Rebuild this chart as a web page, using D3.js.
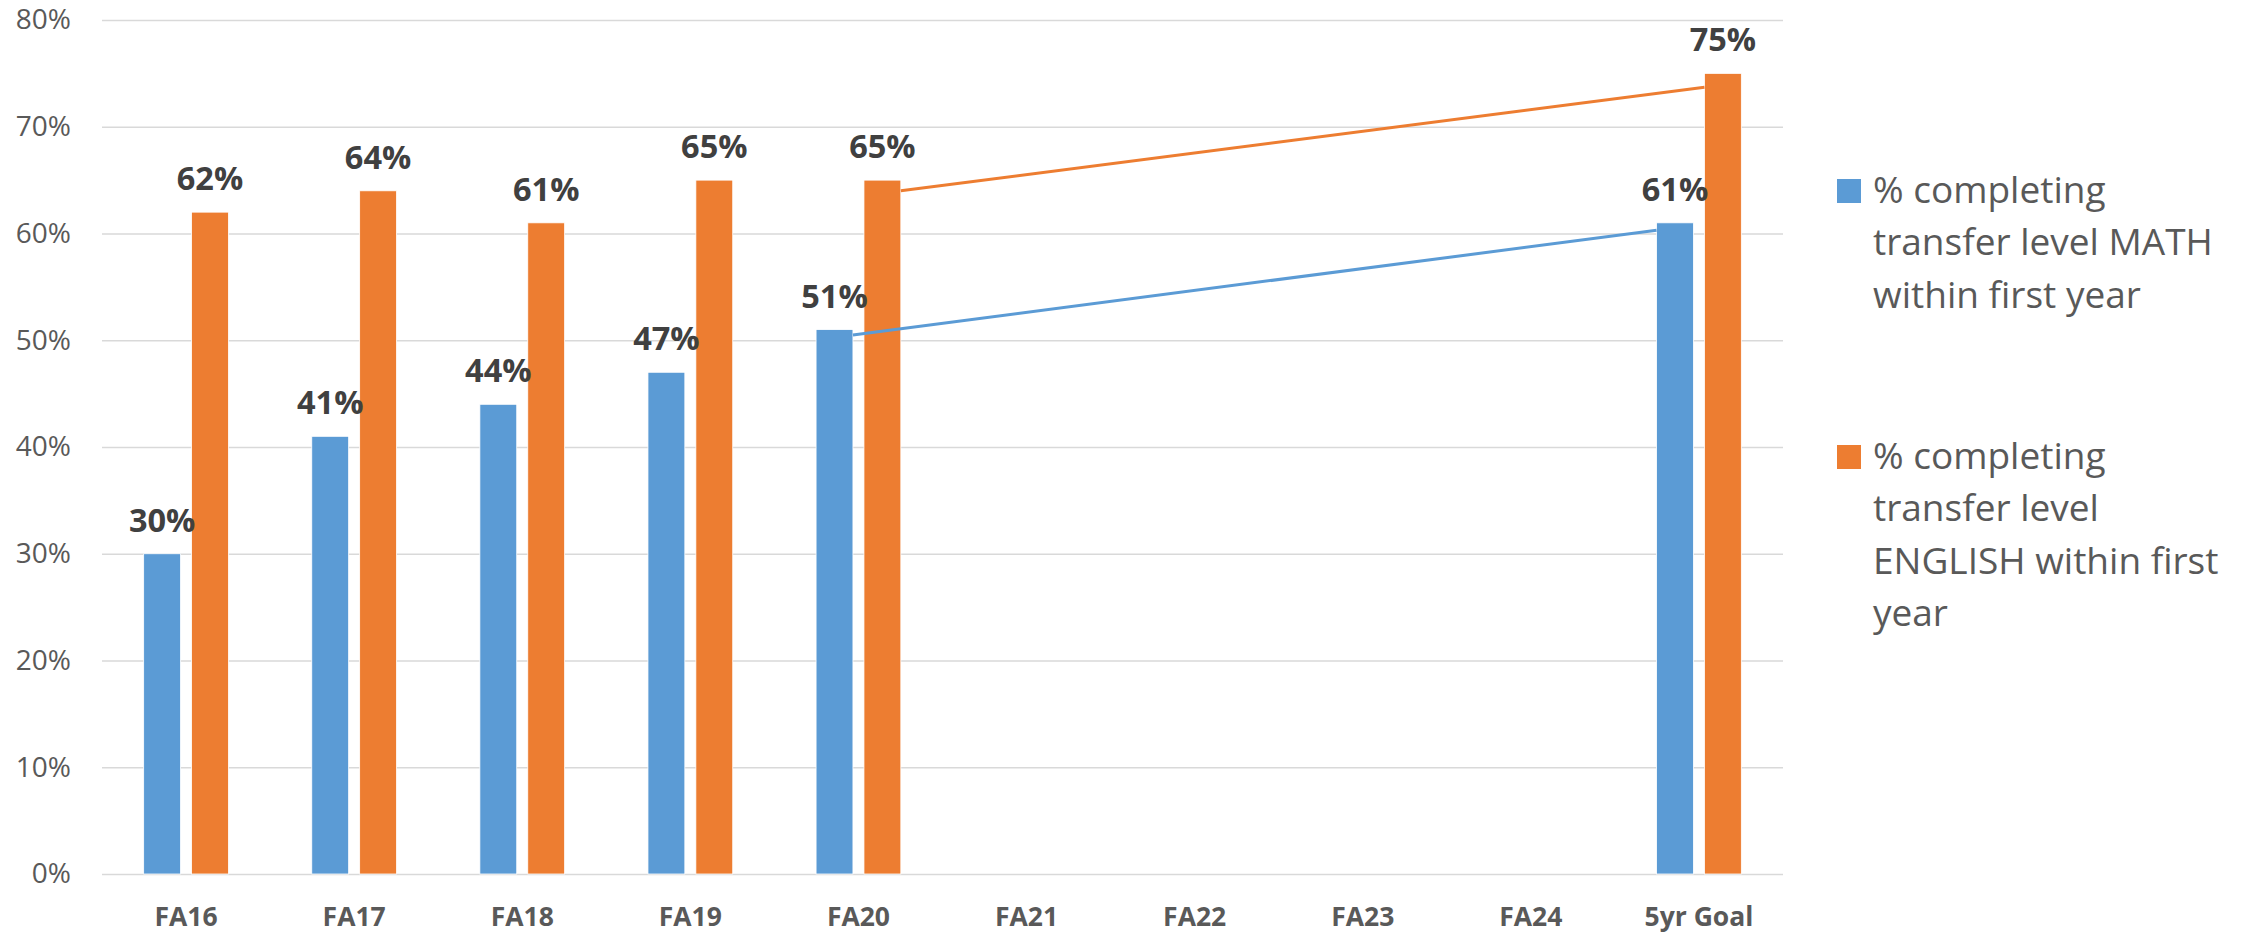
<!DOCTYPE html>
<html>
<head>
<meta charset="utf-8">
<script src="https://cdn.jsdelivr.net/npm/d3@7"></script>
<style>
  html, body { margin: 0; padding: 0; background: #fff; }
  svg { display: block; }
  text { font-family: "Open Sans", "Noto Sans", sans-serif; }
</style>
</head>
<body>
<svg id="chart" width="2249" height="933"></svg>
<script>
// ---- data ----
const categories = ["FA16", "FA17", "FA18", "FA19", "FA20", "FA21", "FA22", "FA23", "FA24", "5yr Goal"];
const seriesNames = [
  "% completing transfer level MATH within first year",
  "% completing transfer level ENGLISH within first year"
];
const mathValues    = [30, 41, 44, 47, 51, null, null, null, null, 61];
const englishValues = [62, 64, 61, 65, 65, null, null, null, null, 75];
const yTicks = [0, 10, 20, 30, 40, 50, 60, 70, 80];
// connector lines from FA20 bar to 5yr Goal bar (values at each end)
const connectors = [
  { series: 0, from: "FA20", to: "5yr Goal", startValue: 50.5, endValue: 60.3 },
  { series: 1, from: "FA20", to: "5yr Goal", startValue: 64.0, endValue: 73.7 }
];
const legendLines = [
  ["% completing", "transfer level MATH", "within first year"],
  ["% completing", "transfer level", "ENGLISH within first", "year"]
];

// ---- layout ----
const colors = ["#5B9BD5", "#ED7D31"];
const plot = { left: 102, right: 1783, top: 20, bottom: 874 };
const svg = d3.select("#chart");

const x = d3.scaleBand().domain(categories).range([plot.left, plot.right]).padding(0);
const x1 = d3.scaleBand().domain([0, 1]).range([0, x.bandwidth()]).paddingInner(0.23).paddingOuter(0.87);
const y = d3.scaleLinear().domain([0, 80]).range([plot.bottom, plot.top]);

// gridlines
const yAxis = d3.axisLeft(y).tickValues(yTicks).tickSize(-(plot.right - plot.left)).tickFormat(d => d + "%").tickPadding(31);
const gy = svg.append("g").attr("transform", `translate(${plot.left},0)`).call(yAxis);
gy.select(".domain").remove();
gy.selectAll(".tick line").attr("stroke", "#D9D9D9").attr("stroke-width", 1.6);
gy.selectAll(".tick text").attr("fill", "#595959").style("font-size", "28px")
  .style("font-family", '"Open Sans", sans-serif');

// x axis labels
const xAxis = d3.axisBottom(x).tickSize(0).tickPadding(33);
const gx = svg.append("g").attr("transform", `translate(0,${plot.bottom})`).call(xAxis);
gx.select(".domain").remove();
gx.selectAll(".tick text").attr("fill", "#595959").style("font-size", "26.5px").style("font-weight", "700")
  .style("font-family", '"Open Sans", sans-serif');

// bars
const allSeries = [mathValues, englishValues];
allSeries.forEach((vals, si) => {
  const data = categories.map((c, i) => ({ c, v: vals[i] })).filter(d => d.v != null);
  svg.append("g").selectAll("rect").data(data).join("rect")
    .attr("x", d => x(d.c) + x1(si))
    .attr("width", x1.bandwidth())
    .attr("y", d => y(d.v))
    .attr("height", d => y(0) - y(d.v))
    .attr("fill", colors[si])
    .attr("stroke", "#fff").attr("stroke-width", 0.8);
});

// connector lines
connectors.forEach(cn => {
  const x0 = x(cn.from) + x1(cn.series) + x1.bandwidth();
  const xe = x(cn.to) + x1(cn.series);
  svg.append("line")
    .attr("x1", x0).attr("y1", y(cn.startValue))
    .attr("x2", xe).attr("y2", y(cn.endValue))
    .attr("stroke", colors[cn.series]).attr("stroke-width", 3);
});

// data labels
allSeries.forEach((vals, si) => {
  const data = categories.map((c, i) => ({ c, v: vals[i] })).filter(d => d.v != null);
  svg.append("g").selectAll("text").data(data).join("text")
    .attr("x", d => x(d.c) + x1(si) + x1.bandwidth() / 2)
    .attr("y", d => y(d.v) - 22)
    .attr("text-anchor", "middle")
    .attr("fill", "#404040")
    .style("font-size", "32.5px").style("font-weight", "700")
    .text(d => d.v + "%");
});

// legend
const legendTops = [179, 445];
legendLines.forEach((lines, si) => {
  const g = svg.append("g");
  g.append("rect").attr("x", 1837).attr("y", legendTops[si]).attr("width", 24).attr("height", 24).attr("fill", colors[si]);
  g.append("text").attr("fill", "#595959").style("font-size", "37px")
    .selectAll("tspan").data(lines).join("tspan")
    .attr("x", 1873).attr("y", (d, i) => legendTops[si] + 24 + i * 52.3)
    .text(d => d);
});
</script>
</body>
</html>
